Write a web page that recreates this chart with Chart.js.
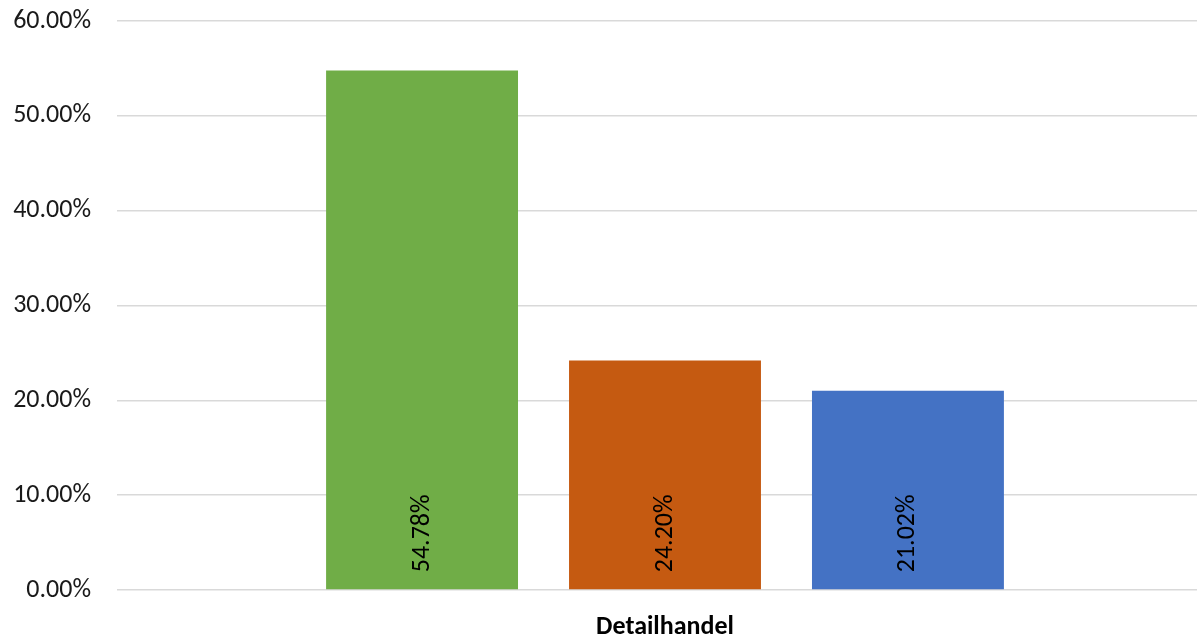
<!DOCTYPE html>
<html>
<head>
<meta charset="utf-8">
<script src="https://cdn.jsdelivr.net/npm/chart.js@4/dist/chart.umd.min.js"></script>
<style>
  html, body { margin: 0; padding: 0; background: #fff; overflow: hidden; }
  #wrap { width: 1213px; height: 635px; position: relative; }
</style>
</head>
<body>
<div id="wrap"><canvas id="chart"></canvas></div>
<script>
  // data
  var categories = ["Detailhandel"];
  var seriesA = [54.78];
  var seriesB = [24.20];
  var seriesC = [21.02];
  var seriesColors = ["#70ad47", "#c55a11", "#4472c4"];
  var yTicks = [0, 10, 20, 30, 40, 50, 60];

  var fontFamily = "Carlito, Calibri, 'Liberation Sans', sans-serif";

  // value labels, rotated, sitting at the bottom of each bar
  var barLabels = {
    id: "barLabels",
    afterDatasetsDraw: function (chart) {
      var ctx = chart.ctx;
      ctx.save();
      ctx.font = "26px " + fontFamily;
      ctx.fillStyle = "#000";
      ctx.textAlign = "left";
      ctx.textBaseline = "middle";
      chart.data.datasets.forEach(function (ds, i) {
        chart.getDatasetMeta(i).data.forEach(function (bar, j) {
          ctx.save();
          ctx.translate(bar.x, bar.base - 17);
          ctx.rotate(-Math.PI / 2);
          ctx.fillText(ds.data[j].toFixed(2) + "%", 0, 0);
          ctx.restore();
        });
      });
      ctx.restore();
    }
  };

  var ctx = document.getElementById("chart").getContext("2d");
  var myChart = new Chart(ctx, {
    type: "bar",
    data: {
      labels: categories,
      datasets: [
        { label: "A", data: seriesA, backgroundColor: seriesColors[0] },
        { label: "B", data: seriesB, backgroundColor: seriesColors[1] },
        { label: "C", data: seriesC, backgroundColor: seriesColors[2] },
      ],
    },
    options: {
      responsive: true,
      maintainAspectRatio: false,
      animation: false,
      layout: { padding: { top: 21, right: 0, left: 0, bottom: 0 } },
      datasets: { bar: { categoryPercentage: 0.665, barPercentage: 0.79 } },
      plugins: { legend: { display: false }, tooltip: { enabled: false } },
      scales: {
        x: {
          grid: { display: false },
          border: { display: false },
          ticks: {
            color: "#000",
            font: { family: fontFamily, size: 26, weight: "bold" },
            padding: 14,
          },
          afterFit: function (scale) { scale.height = 45; },
        },
        y: {
          min: 0,
          max: 60,
          afterBuildTicks: function (scale) {
            scale.ticks = yTicks.map(function (v) { return { value: v }; });
          },
          grid: { color: "#d9d9d9", lineWidth: 1.5, drawTicks: false },
          border: { display: false },
          ticks: {
            color: "#1a1a1a",
            font: { family: fontFamily, size: 26 },
            padding: 26,
            callback: function (v) { return v.toFixed(2) + "%"; },
          },
          afterFit: function (scale) {
            scale.width = 117;
            scale.paddingTop = 0;
            scale.paddingBottom = 0;
          },
        },
      },
    },
    plugins: [barLabels],
  });
</script>
</body>
</html>
